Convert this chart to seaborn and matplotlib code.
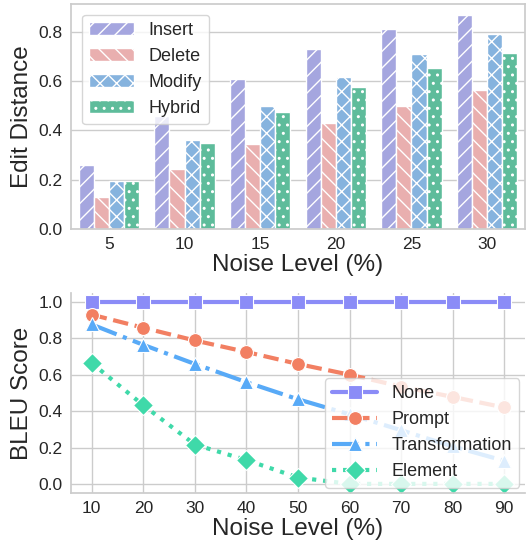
import pandas as pd
import matplotlib
matplotlib.use("Agg")
import matplotlib.pyplot as plt
import seaborn as sns

# bar chart data (edit distance vs noise level)
noise_bar = ["5", "10", "15", "20", "25", "30"]
insert = [0.26, 0.46, 0.61, 0.73, 0.81, 0.87]
delete = [0.13, 0.245, 0.345, 0.43, 0.50, 0.565]
modify = [0.195, 0.36, 0.50, 0.615, 0.71, 0.79]
hybrid = [0.193, 0.347, 0.473, 0.574, 0.653, 0.713]

# line chart data (BLEU vs noise level)
noise_line = [10, 20, 30, 40, 50, 60, 70, 80, 90]
bleu_none = [1.0, 1.0, 1.0, 1.0, 1.0, 1.0, 1.0, 1.0, 1.0]
bleu_prompt = [0.93, 0.858, 0.788, 0.725, 0.659, 0.60, 0.535, 0.478, 0.42]
bleu_transf = [0.876, 0.764, 0.659, 0.559, 0.465, 0.382, 0.295, 0.206, 0.127]
bleu_element = [0.664, 0.432, 0.216, 0.131, 0.035, 0.0, 0.0, 0.0, 0.0]

bar_colors = ["#9b9de9", "#f3a5a5", "#78b3ec", "#4ecc9f"]
bar_hatches = ["//", "\\\\", "xx", ".."]
line_colors = ["#8b8cf7", "#f27f62", "#58aaf7", "#3fd9a9"]

sns.set_theme(style="whitegrid")
plt.rcParams["font.family"] = ["Liberation Sans", "DejaVu Sans"]
plt.rcParams["hatch.color"] = "white"
plt.rcParams["hatch.linewidth"] = 1.0

LABEL = 17.5
TICK = 12.5
LEG = 13

fig, (ax1, ax2) = plt.subplots(
    2, 1, figsize=(5.27, 5.42), dpi=100,
    gridspec_kw={"height_ratios": [225, 200], "hspace": 0.30},
)
fig.subplots_adjust(left=0.135, right=0.996, top=0.993, bottom=0.0904)

# --- top: grouped bars
bar_df = pd.DataFrame({
    "noise": noise_bar * 4,
    "value": insert + delete + modify + hybrid,
    "type": ["Insert"] * 6 + ["Delete"] * 6 + ["Modify"] * 6 + ["Hybrid"] * 6,
})
sns.barplot(data=bar_df, x="noise", y="value", hue="type",
            palette=bar_colors, edgecolor="white", linewidth=1, ax=ax1)
for container, hatch in zip(ax1.containers, bar_hatches):
    for patch in container:
        patch.set_hatch(hatch)
handles, labels = ax1.get_legend_handles_labels()
for h, hatch in zip(handles, bar_hatches):
    h.set_hatch(hatch)
ax1.legend(handles, labels, loc="upper left", fontsize=LEG, handlelength=2.5,
           borderaxespad=0.6)
ax1.set_xlabel("Noise Level (%)", fontsize=LABEL, labelpad=1)
ax1.set_ylabel("Edit Distance", fontsize=LABEL, labelpad=4)
ax1.tick_params(labelsize=TICK, length=0, pad=6)

# --- bottom: lines
line_specs = [
    ("None", bleu_none, "s", "-"),
    ("Prompt", bleu_prompt, "o", "--"),
    ("Transformation", bleu_transf, "^", "-."),
    ("Element", bleu_element, "D", ":"),
]
for (name, vals, mk, ls), col in zip(line_specs, line_colors):
    sns.lineplot(x=noise_line, y=vals, marker=mk, linestyle=ls, color=col,
                 linewidth=3, markersize=10, markeredgecolor="white",
                 markeredgewidth=0.8, label=name, ax=ax2)
ax2.legend(loc="lower right", fontsize=LEG, handlelength=2.5,
           borderaxespad=0.3)
ax2.set_xticks(noise_line)
ax2.set_yticks([0.0, 0.2, 0.4, 0.6, 0.8, 1.0])
ax2.set_xlabel("Noise Level (%)", fontsize=LABEL, labelpad=1)
ax2.set_ylabel("BLEU Score", fontsize=LABEL, labelpad=4)
ax2.tick_params(labelsize=TICK, length=0, pad=6)
sns.despine(ax=ax2)

plt.savefig("out.png", dpi=100)
plt.close()
